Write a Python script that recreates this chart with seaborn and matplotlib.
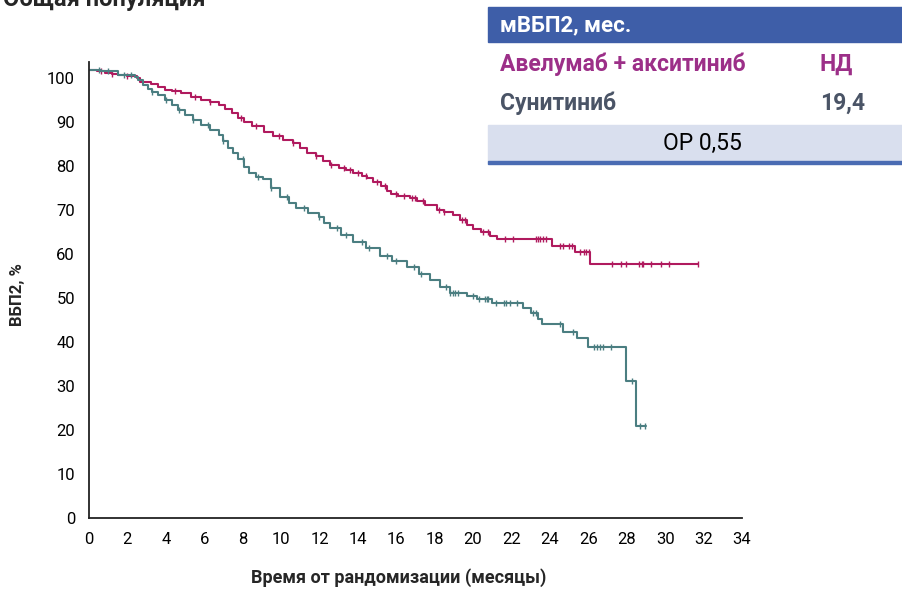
import numpy as np
import pandas as pd
import matplotlib
matplotlib.use("Agg")
import matplotlib.pyplot as plt
from matplotlib.patches import Rectangle
import seaborn as sns

# Kaplan-Meier step points (months, %)
avel_time = [0.0, 0.4, 0.83, 1.2, 1.5, 2.0, 2.5, 2.65, 3.0, 3.25, 3.6, 3.95, 4.3,
             4.8, 5.3, 5.85, 6.3, 6.75, 7.1, 7.45, 7.75, 8.05, 8.5, 9.1, 9.6, 10.1,
             10.6, 11.0, 11.35, 11.8, 12.2, 12.55, 13.0, 13.4, 13.75, 14.2, 14.5,
             14.8, 15.2, 15.5, 15.7, 16.1, 16.7, 17.1, 17.5, 18.1, 18.5, 18.95,
             19.3, 19.7, 20.0, 20.4, 20.9, 21.25, 24.1, 25.3, 26.1, 31.7]
avel_surv = [101.8, 101.5, 101.1, 100.9, 100.7, 100.4, 99.9, 99.2, 99.0, 98.6, 98.0,
             97.3, 97.0, 96.5, 95.7, 95.0, 94.5, 93.9, 93.0, 92.0, 90.9, 89.9, 89.2,
             87.8, 86.9, 86.0, 85.2, 84.2, 83.0, 82.3, 81.2, 80.2, 79.5, 79.0, 78.5,
             77.8, 77.2, 76.4, 75.4, 74.3, 73.6, 73.2, 72.8, 72.0, 71.2, 70.0, 69.6,
             68.8, 67.8, 66.6, 65.6, 65.0, 64.2, 63.3, 61.8, 60.5, 57.8, 57.8]
avel_cens = [0.6, 1.2, 2.0, 4.5, 5.5, 6.3, 7.9, 8.7, 9.9, 10.6, 11.8, 12.6, 13.3,
             13.6, 14.0, 14.4, 15.0, 15.4, 16.0, 16.4, 16.8, 17.0, 17.4, 18.2, 18.5,
             19.4, 19.6, 20.5, 20.8, 21.67, 22.1, 23.3, 23.4, 23.5, 23.65, 23.77,
             24.5, 24.7, 24.97, 25.14, 25.57, 25.75, 25.9, 26.05, 27.25, 27.7,
             27.95, 28.65, 28.8, 28.85, 29.25, 29.8, 30.2, 31.7]

suni_time = [0.0, 0.6, 1.5, 2.4, 2.55, 2.8, 3.05, 3.3, 3.6, 3.95, 4.3, 4.65, 5.0,
             5.4, 5.85, 6.3, 6.75, 7.0, 7.25, 7.5, 7.75, 8.05, 8.35, 8.7, 9.05, 9.5,
             9.95, 10.4, 10.8, 11.4, 11.95, 12.25, 12.55, 13.1, 13.75, 14.4, 15.15,
             15.8, 16.55, 17.2, 17.75, 18.3, 18.8, 19.7, 20.2, 21.0, 22.6, 23.0,
             23.4, 23.6, 24.7, 25.4, 26.0, 27.95, 28.5, 29.0]
suni_surv = [101.8, 101.5, 100.7, 100.3, 99.5, 98.5, 97.6, 96.8, 96.1, 95.0, 93.9,
             92.7, 91.6, 90.5, 89.3, 88.2, 87.0, 85.6, 84.2, 83.0, 81.7, 79.8, 78.3,
             77.6, 77.0, 74.9, 72.9, 71.6, 70.4, 69.3, 68.5, 67.0, 65.8, 64.3, 62.8,
             61.4, 59.6, 58.3, 57.1, 55.5, 54.1, 52.6, 51.2, 50.5, 49.7, 48.9, 47.8,
             46.7, 45.2, 44.0, 42.3, 40.8, 38.8, 31.2, 20.8, 20.8]
suni_cens = [0.5, 1.0, 1.8, 2.2, 3.3, 4.0, 4.7, 5.4, 6.2, 7.0, 8.0, 8.8, 9.5, 10.3,
             11.2, 12.0, 12.9, 13.4, 14.2, 14.6, 15.5, 16.0, 16.9, 17.3, 18.6, 18.8,
             18.97, 19.06, 19.23, 20.0, 20.3, 20.6, 20.7, 20.8, 21.2, 21.6, 21.7,
             21.9, 22.3, 23.1, 23.3, 24.5, 25.2, 26.27, 26.44, 26.6, 26.75, 27.2,
             28.27, 28.7, 28.96]

x_ticks = list(range(0, 35, 2))
y_ticks = list(range(0, 101, 10))

RED = "#b01a5e"
TEAL = "#4b7e81"


def step_value(times, surv, t):
    idx = np.searchsorted(times, t, side="right") - 1
    return np.asarray(surv)[idx]


sns.set_style("white")
plt.rcParams["font.family"] = ["Roboto", "DejaVu Sans"]

fig = plt.figure(figsize=(9.03, 5.91), dpi=100)
ax = fig.add_axes([89 / 903, 1 - 518 / 591, (742 - 89) / 903, (518 - 62) / 591])

for times, surv, cens, col in [(avel_time, avel_surv, avel_cens, RED),
                               (suni_time, suni_surv, suni_cens, TEAL)]:
    df = pd.DataFrame({"t": times, "s": surv})
    sns.lineplot(data=df, x="t", y="s", drawstyle="steps-post", color=col,
                 lw=1.5, ax=ax, sort=False, estimator=None)
    ax.plot(cens, step_value(times, surv, cens), ls="none", marker="|",
            ms=5, mew=1.0, color=col)

ax.set_xlim(0, 34)
ax.set_ylim(0, (518 - 62) / 4.4)
ax.set_xticks(x_ticks)
ax.set_yticks(y_ticks)
ax.set_xlabel("")
ax.set_ylabel("")
ax.tick_params(axis="both", direction="out", length=6, width=1.2, colors="#222222",
               labelsize=12, labelcolor="black", pad=4)
for side in ["top", "right"]:
    ax.spines[side].set_visible(False)
for side in ["left", "bottom"]:
    ax.spines[side].set_color("#222222")
    ax.spines[side].set_linewidth(1.3)

fig.text(18 / 903, 1 - 295 / 591, "ВБП2, %", rotation=90, ha="center", va="center",
         fontsize=12, fontweight="bold")
fig.text(399 / 903, 1 - 578 / 591, "Время от рандомизации (месяцы)", ha="center",
         va="center", fontsize=13, fontweight="bold")

# title cut off at the top edge
fig.text(0.003, 1 - 6 / 591, "Общая популяция", ha="left", va="baseline",
         fontsize=17, fontweight="bold")

# summary table, top right
def px_rect(x0, y0, x1, y1, color):
    fig.patches.append(Rectangle((x0 / 903, 1 - y1 / 591), (x1 - x0) / 903,
                                 (y1 - y0) / 591, transform=fig.transFigure,
                                 color=color, zorder=3))

px_rect(488, 7, 905, 42, "#3e5ea8")
px_rect(488, 125, 905, 161, "#d9dfee")
px_rect(488, 161, 905, 163.5, "#4a6cb3")

fig.text(500 / 903, 1 - 25 / 591, "мВБП2, мес.", color="white", fontsize=16,
         fontweight="bold", va="center", zorder=4)
fig.text(500 / 903, 1 - 64 / 591, "Авелумаб + акситиниб", color="#9c2f88",
         fontsize=16.5, fontweight="bold", va="center", zorder=4)
fig.text(820 / 903, 1 - 64 / 591, "НД", color="#9c2f88", fontsize=16.5,
         fontweight="bold", va="center", zorder=4)
fig.text(500 / 903, 1 - 103 / 591, "Сунитиниб", color="#4a5466", fontsize=16.5,
         fontweight="bold", va="center", zorder=4)
fig.text(820 / 903, 1 - 103 / 591, "19,4", color="#4a5466", fontsize=16.5,
         fontweight="bold", va="center", zorder=4)
fig.text(702 / 903, 1 - 143 / 591, "ОР 0,55", color="black", fontsize=16.5,
         ha="center", va="center", zorder=4)

fig.savefig("out.png", dpi=100)
